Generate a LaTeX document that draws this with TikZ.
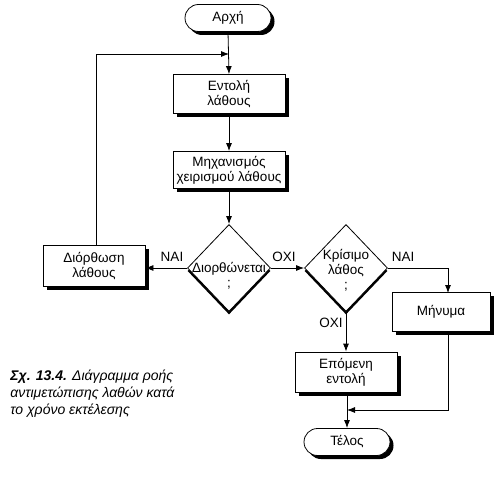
\documentclass[tikz,border=0pt]{standalone}
\usepackage{fontspec}
\setmainfont{Liberation Sans}
\usetikzlibrary{shapes.geometric,shapes.misc,arrows.meta,shadows}
\begin{document}
\begin{tikzpicture}[x=1pt,y=1pt,
  font=\fontsize{13.5}{15}\selectfont,
  >={Latex[length=8pt,width=6pt]},
  line width=0.8pt,
  shad/.style={drop shadow={shadow xshift=3.5pt,shadow yshift=-3.5pt,fill=black,opacity=1}},
  procbox/.style={draw,fill=white,shad,align=center,inner sep=0pt},
  term/.style={draw,fill=white,rounded rectangle,shad,inner sep=0pt,minimum width=86pt,minimum height=27pt},
  dia/.style={draw,fill=white,diamond,inner sep=0pt,minimum width=83pt,minimum height=87pt,
    drop shadow={shadow xshift=0pt,shadow yshift=-3pt,fill=black,opacity=1}},
  dtext/.style={align=center,inner sep=0pt},
  lbl/.style={inner sep=0pt}
]
\useasboundingbox (0,0) rectangle (503,-478);

\node[term] (arxi) at (228,-18) {Αρχή};
\node[procbox,minimum width=112pt,minimum height=39pt] (entoli) at (229,-94) {Εντολή\\λάθους};
\node[procbox,minimum width=112pt,minimum height=37pt] (mhx) at (229,-170) {Μηχανισμός\\χειρισμού λάθους};
\node[dia] (d1) at (229,-268) {};
\node[dtext,anchor=north] (d1t) at (229,-262) {Διορθώνεται\\;};
\node[procbox,minimum width=102pt,minimum height=41pt] (dior) at (94,-266) {Διόρθωση\\λάθους};
\node[dia] (d2) at (346,-268) {};
\node[dtext] (d2t) at (346,-270) {Κρίσιμο\\λάθος\\;};
\node[procbox,minimum width=98pt,minimum height=39pt] (minima) at (441,-312) {Μήνυμα};
\node[procbox,minimum width=102pt,minimum height=40pt] (epom) at (346,-372) {Επόμενη\\εντολή};
\node[term] (telos) at (347,-442) {Τέλος};

\node[lbl] (nai1) at (172,-257) {ΝΑΙ};
\node[lbl] (oxi1) at (284,-257) {ΟΧΙ};
\node[lbl] (nai2) at (403,-257) {ΝΑΙ};
\node[lbl] (oxi2) at (331,-323) {ΟΧΙ};

\coordinate (loopA) at (96,-54);
\coordinate (loopB) at (229,-54);
\coordinate (mtop) at (448,-293);
\coordinate (mbot) at (448,-331.5);
\coordinate (mrg) at (448,-410);
\coordinate (mrgE) at (347,-410);

\draw[->] (arxi.south) -- (entoli.north);
\draw[->] (dior.north -| loopA) -- (loopA) -- (loopB);
\draw[->] (entoli.south) -- (mhx.north);
\draw[->] (mhx.south) -- (d1.north);
\draw[->] (d1.west) -- (d1.west -| dior.east);
\draw[->] (d1.east) -- (d2.west);
\draw[->] (d2.east) -| (mtop);
\draw[->] (d2.south) -- (d2.south |- epom.north);
\draw[->] (epom.south -| telos.north) -- (telos.north);
\draw[->] (mbot) -- (mrg) -- (mrgE);

\node[anchor=north west,align=left,inner sep=0pt,font=\fontsize{14}{17}\selectfont\itshape] (cap) at (10,-370)
  {\textbf{Σχ. 13.4.} Διάγραμμα ροής\\αντιμετώπισης λαθών κατά\\το χρόνο εκτέλεσης};
\end{tikzpicture}
\end{document}
